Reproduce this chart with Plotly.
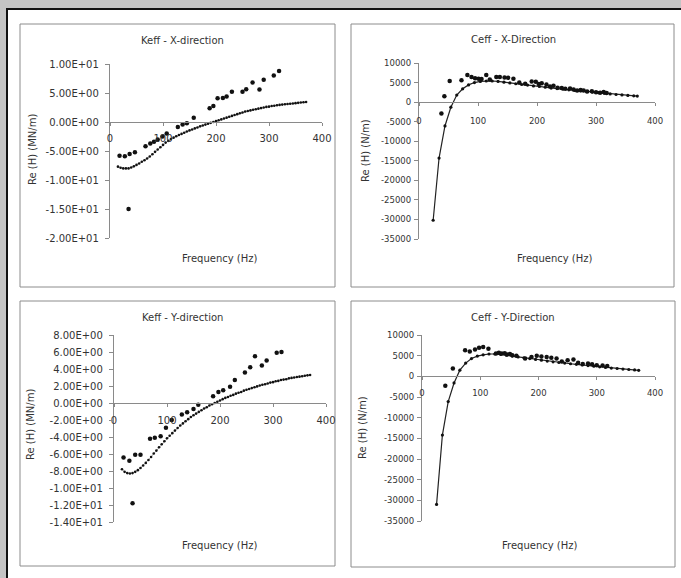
import plotly.graph_objects as go

# ---------------- data ----------------
# Keff X-direction
kx_meas_f = [18, 28, 37, 47, 35, 67, 76, 83, 90, 99, 107, 128, 137, 145, 158, 188, 195, 203, 213, 220,
             230, 250, 257, 269, 282, 290, 309, 319]
kx_meas_v = [-5.8, -5.9, -5.5, -5.2, -15.0, -4.2, -3.7, -3.4, -3.0, -2.5, -2.0, -0.85, -0.45, -0.2, 0.75,
             2.35, 2.75, 4.1, 4.15, 4.4, 5.2, 5.2, 5.65, 6.8, 5.6, 7.3, 8.0, 8.8]
kx_model_f = [15, 20, 25, 30, 35, 40, 45, 50, 55, 60, 65, 70, 75, 80, 85, 90, 95, 100, 105, 110, 115, 120,
              125, 130, 135, 140, 145, 150, 155, 160, 165, 170, 175, 180, 185, 190, 195, 200, 205, 210, 215,
              220, 225, 230, 235, 240, 245, 250, 255, 260, 265, 270, 275, 280, 285, 290, 295, 300, 305, 310,
              315, 320, 325, 330, 335, 340, 345, 350, 355, 360, 365, 370]
kx_model_v = [-7.7, -7.9, -8.0, -8.0, -8.0, -7.85, -7.65, -7.4, -7.15, -6.85, -6.6, -6.3, -5.95, -5.55,
              -5.15, -4.75, -4.35, -3.95, -3.55, -3.25, -2.95, -2.7, -2.45, -2.25, -2.05, -1.85, -1.65,
              -1.45, -1.3, -1.1, -0.95, -0.75, -0.6, -0.45, -0.3, -0.15, 0.0, 0.15, 0.3, 0.45, 0.6, 0.75,
              0.9, 1.05, 1.2, 1.35, 1.5, 1.65, 1.8, 1.9, 2.0, 2.1, 2.2, 2.3, 2.4, 2.5, 2.6, 2.65, 2.75,
              2.8, 2.9, 2.95, 3.0, 3.05, 3.1, 3.15, 3.2, 3.25, 3.3, 3.35, 3.4, 3.45]

# Ceff X-direction
cx_meas_f = [38, 43, 52, 72, 82, 89, 95, 101, 106, 114, 120, 131, 137, 145, 151, 160, 170, 180, 191, 198,
             203, 208, 216, 222, 228, 235, 242, 248, 256, 262, 268, 274, 279, 285, 293, 300, 307, 313, 318]
cx_meas_v = [-2900, 1500, 5400, 5600, 6900, 6400, 6100, 6000, 5900, 6900, 5800, 6400, 6400, 6300, 6200,
             6000, 5000, 4700, 5300, 5200, 4600, 4800, 4500, 4000, 4200, 3700, 3600, 3400, 3500, 3200,
             3000, 3100, 3000, 2700, 2800, 2500, 2400, 2600, 2300]
cx_model_f = [24, 34, 44, 54, 64, 74, 84, 94, 104, 114, 124, 134, 144, 154, 164, 174, 184, 194, 204, 214,
              224, 234, 244, 254, 264, 274, 284, 294, 304, 314, 324, 334, 344, 354, 364, 370]
cx_model_v = [-30200, -14300, -6100, -1300, 1800, 3400, 4400, 5000, 5300, 5400, 5400, 5300, 5100, 4900,
              4700, 4500, 4350, 4150, 4000, 3800, 3600, 3450, 3300, 3150, 3000, 2850, 2700, 2550, 2400,
              2250, 2100, 1950, 1850, 1700, 1600, 1550]

# Keff Y-direction
ky_meas_f = [18, 29, 40, 50, 35, 68, 77, 88, 98, 109, 128, 138, 150, 159, 187, 197, 206, 219, 228, 247,
             257, 266, 279, 288, 307, 316]
ky_meas_v = [-6.4, -6.8, -6.1, -6.1, -11.8, -4.2, -4.1, -3.9, -2.9, -2.0, -1.35, -1.1, -0.7, -0.2, 0.8,
             1.3, 1.5, 1.9, 2.7, 3.6, 4.2, 5.5, 4.4, 5.0, 5.9, 6.0]
ky_model_f = kx_model_f
ky_model_v = [-7.8, -8.1, -8.25, -8.3, -8.25, -8.1, -7.9, -7.65, -7.35, -7.05, -6.7, -6.35, -5.95, -5.6,
              -5.2, -4.85, -4.5, -4.15, -3.85, -3.55, -3.25, -2.95, -2.65, -2.4, -2.15, -1.9, -1.65,
              -1.45, -1.25, -1.05, -0.85, -0.65, -0.5, -0.3, -0.15, 0.0, 0.15, 0.3, 0.45, 0.6, 0.7, 0.85,
              0.95, 1.1, 1.2, 1.3, 1.45, 1.55, 1.65, 1.75, 1.85, 1.95, 2.05, 2.15, 2.2, 2.3, 2.4, 2.45,
              2.55, 2.6, 2.7, 2.75, 2.8, 2.9, 2.95, 3.0, 3.05, 3.1, 3.15, 3.2, 3.25, 3.3]

# Ceff Y-direction
cy_meas_f = [40, 53, 74, 82, 91, 98, 105, 114, 127, 132, 137, 142, 146, 151, 155, 162, 177, 188, 197, 205,
             214, 222, 231, 240, 250, 260, 268, 276, 285, 292, 300, 310, 318]
cy_meas_v = [-2300, 1900, 6300, 6000, 6500, 6900, 7100, 6700, 5500, 5700, 5500, 5600, 5300, 5400, 5100,
             5000, 4300, 4700, 5000, 4800, 4700, 4500, 4300, 3600, 3900, 4100, 3300, 3000, 3100, 2900,
             2700, 2600, 2500]
cy_model_f = [25, 35, 45, 55, 65, 75, 85, 95, 105, 115, 125, 135, 145, 155, 165, 175, 185, 195, 205, 215,
              225, 235, 245, 255, 265, 275, 285, 295, 305, 315, 325, 335, 345, 355, 365, 372]
cy_model_v = [-31000, -14200, -6100, -1600, 1500, 3200, 4300, 4900, 5200, 5400, 5400, 5300, 5100, 4900,
              4700, 4500, 4300, 4100, 3900, 3700, 3500, 3350, 3200, 3050, 2900, 2750, 2600, 2450, 2300,
              2150, 2000, 1900, 1750, 1650, 1550, 1450]

# tick labels
x_tickvals = [0, 100, 200, 300, 400]
x_ticktext = ["0", "100", "200", "300", "400"]
kx_tickvals = [10, 5, 0, -5, -10, -15, -20]
kx_ticktext = ["1.00E+01", "5.00E+00", "0.00E+00", "-5.00E+00", "-1.00E+01", "-1.50E+01", "-2.00E+01"]
ky_tickvals = [8, 6, 4, 2, 0, -2, -4, -6, -8, -10, -12, -14]
ky_ticktext = ["8.00E+00", "6.00E+00", "4.00E+00", "2.00E+00", "0.00E+00", "-2.00E+00", "-4.00E+00",
               "-6.00E+00", "-8.00E+00", "-1.00E+01", "-1.20E+01", "-1.40E+01"]
c_tickvals = [10000, 5000, 0, -5000, -10000, -15000, -20000, -25000, -30000, -35000]
c_ticktext = ["10000", "5000", "0", "-5000", "-10000", "-15000", "-20000", "-25000", "-30000", "-35000"]

titles = ["Keff - X-direction", "Ceff - X-Direction", "Keff - Y-direction", "Ceff - Y-Direction"]
xtitle = "Frequency (Hz)"
ytitles = ["Re (H) (MN/m)", "Re (H) (N/m)", "Re (H) (MN/m)", "Re (H) (N/m)"]

# ---------------- layout helpers ----------------
W, H = 681, 578
FONT = "DejaVu Sans"
TXT = "#333333"
AX = "#8a8a8a"
BG = "#c4c4c4"


def fx(p):
    return p / W


def fy(p):
    return 1 - p / H


panels = [
    dict(x=(110, 322), y=(64, 238), rng=[-20, 10], zero=122, border=(20, 24, 335, 287),
         tf=10, ysoff=4, xsoff=4, title=(182, 41), xt=(220, 258), yt=(32, 150),
         tv=kx_tickvals, tt=kx_ticktext),
    dict(x=(419, 655), y=(63, 239), rng=[-35000, 10000], zero=102, border=(351, 24, 674, 287),
         tf=8.5, ysoff=1, xsoff=8, title=(513, 40), xt=(555, 258), yt=(365, 150),
         tv=c_tickvals, tt=c_ticktext),
    dict(x=(114, 326), y=(335, 522), rng=[-14, 8], zero=402.5, border=(20, 301, 335, 566),
         tf=10, ysoff=4, xsoff=5, title=(182, 317), xt=(220, 545), yt=(30, 425),
         tv=ky_tickvals, tt=ky_ticktext),
    dict(x=(422, 655), y=(335, 521), rng=[-35000, 10000], zero=376, border=(351, 301, 675, 567),
         tf=8.5, ysoff=1, xsoff=6, title=(513, 317), xt=(540, 545), yt=(362, 428),
         tv=c_tickvals, tt=c_ticktext),
]

series = [
    (kx_meas_f, kx_meas_v, kx_model_f, kx_model_v, "k"),
    (cx_meas_f, cx_meas_v, cx_model_f, cx_model_v, "c"),
    (ky_meas_f, ky_meas_v, ky_model_f, ky_model_v, "k"),
    (cy_meas_f, cy_meas_v, cy_model_f, cy_model_v, "c"),
]

fig = go.Figure()
layout = dict(template="none", width=W, height=H, autosize=False,
              margin=dict(l=0, r=0, t=0, b=0, pad=0, autoexpand=False),
              paper_bgcolor=BG, plot_bgcolor="rgba(0,0,0,0)", showlegend=False,
              font=dict(family=FONT, color=TXT, size=10))
# outer white sheet with black frame; its right and bottom edges run past the picture
shapes = [dict(type="rect", xref="paper", yref="paper", x0=fx(7), x1=fx(W + 10), y0=fy(H + 10),
               y1=fy(9), line=dict(color="#111111", width=2), fillcolor="white", layer="below")]
annotations = []

for i, (p, s) in enumerate(zip(panels, series)):
    n = "" if i == 0 else str(i + 1)
    xa, ya = "xaxis" + n, "yaxis" + n
    xr, yr = "x" + n, "y" + n
    ydom = [fy(p["y"][1]), fy(p["y"][0])]
    layout[xa] = dict(domain=[fx(p["x"][0]), fx(p["x"][1])], range=[0, 400], anchor="free",
                      position=fy(p["zero"]), showgrid=False, zeroline=False, showline=True,
                      linecolor=AX, linewidth=1.3, ticks="outside", ticklen=3, tickcolor=AX,
                      tickvals=x_tickvals, ticktext=x_ticktext, tickfont=dict(size=p["tf"], color=TXT),
                      ticklabelstandoff=p["xsoff"], fixedrange=True, automargin=False)
    layout[ya] = dict(domain=ydom, range=p["rng"], anchor=xr, showgrid=False, zeroline=False,
                      showline=True, linecolor=AX, linewidth=1.3, ticks="outside", ticklen=4,
                      tickcolor=AX, tickvals=p["tv"], ticktext=p["tt"],
                      tickfont=dict(size=p["tf"], color=TXT), ticklabelstandoff=p["ysoff"],
                      fixedrange=True, automargin=False)
    mf, mv, cf, cv, kind = s
    if kind == "k":
        fig.add_trace(go.Scatter(x=cf, y=cv, xaxis=xr, yaxis=yr, mode="lines+markers",
                                 line=dict(color="#555555", width=0.5),
                                 marker=dict(size=2.6, color="#111111", line=dict(width=0)),
                                 cliponaxis=False))
    else:
        fig.add_trace(go.Scatter(x=cf, y=cv, xaxis=xr, yaxis=yr, mode="lines+markers",
                                 line=dict(color="#222222", width=1.2),
                                 marker=dict(size=3.2, color="#111111", line=dict(width=0)),
                                 cliponaxis=False))
    fig.add_trace(go.Scatter(x=mf, y=mv, xaxis=xr, yaxis=yr, mode="markers",
                             marker=dict(size=4.5, color="#111111", symbol="circle", line=dict(width=0)),
                             cliponaxis=False))
    b = p["border"]
    shapes.append(dict(type="rect", xref="paper", yref="paper", x0=fx(b[0]), x1=fx(b[2]),
                       y0=fy(b[3]), y1=fy(b[1]), line=dict(color="#8c8c8c", width=1), layer="below"))
    annotations.append(dict(text=titles[i], x=fx(p["title"][0]), y=fy(p["title"][1]), xref="paper",
                            yref="paper", showarrow=False, xanchor="center", yanchor="middle",
                            font=dict(size=10, color=TXT)))
    annotations.append(dict(text=xtitle, x=fx(p["xt"][0]), y=fy(p["xt"][1]), xref="paper",
                            yref="paper", showarrow=False, xanchor="center", yanchor="middle",
                            font=dict(size=10, color=TXT)))
    annotations.append(dict(text=ytitles[i], x=fx(p["yt"][0]), y=fy(p["yt"][1]), xref="paper",
                            yref="paper", showarrow=False, xanchor="center", yanchor="middle",
                            textangle=-90, font=dict(size=10, color=TXT)))

layout["shapes"] = shapes
layout["annotations"] = annotations
fig.update_layout(**layout)

# remove the browser's default page margin so the figure sits at the window origin
post = ("document.body.style.margin='0';document.body.style.padding='0';"
        "document.documentElement.style.overflow='hidden';"
        "document.body.style.overflow='hidden';document.body.style.background='%s';" % BG)
fig.write_html("out.html", post_script=post, config={"displayModeBar": False})
